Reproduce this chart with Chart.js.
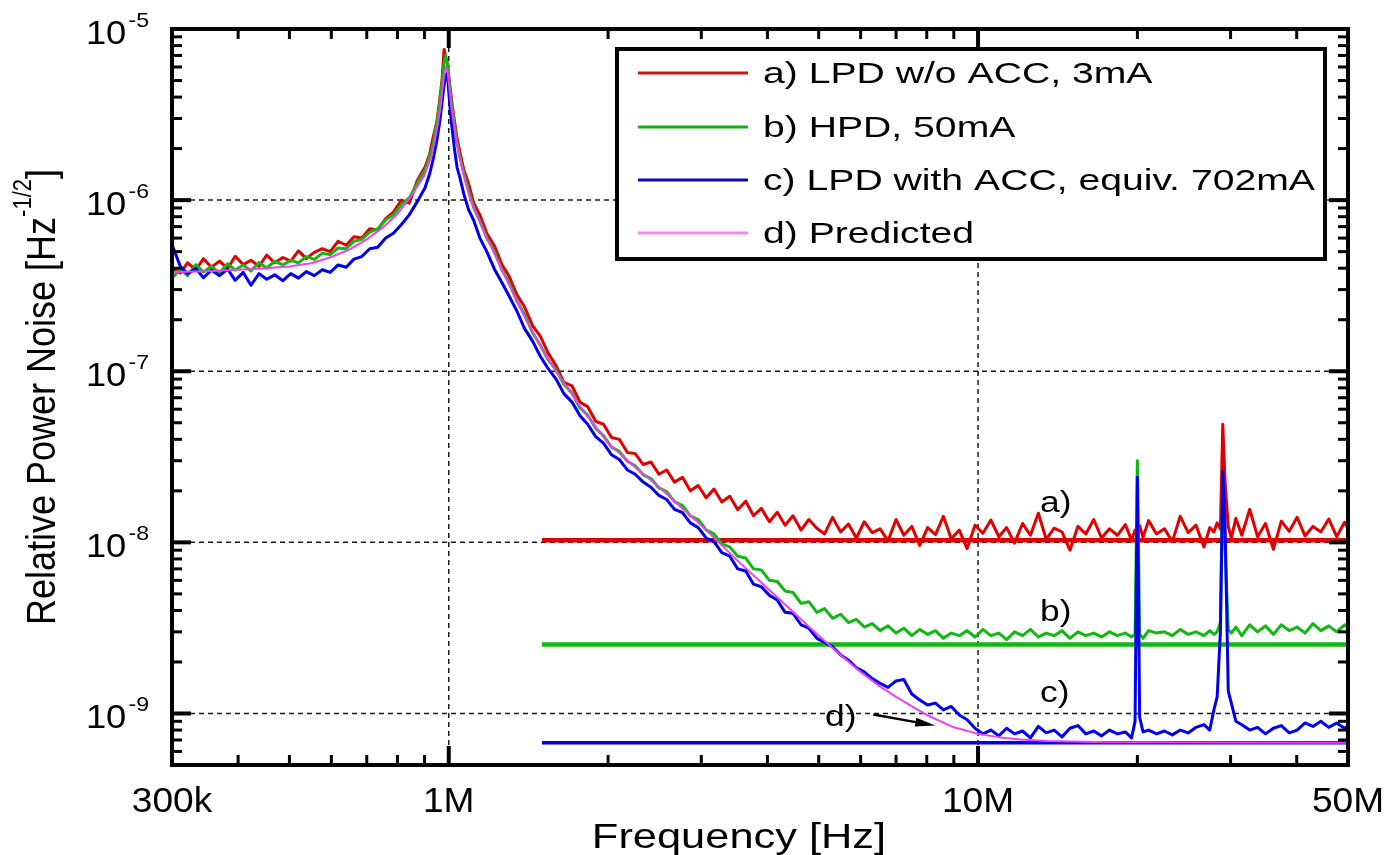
<!DOCTYPE html>
<html>
<head>
<meta charset="utf-8">
<script src="https://cdn.jsdelivr.net/npm/chart.js@4.4.0/dist/chart.umd.min.js"></script>
<style>
  html, body { margin: 0; padding: 0; background: #fff; }
  #wrap { width: 1389px; height: 855px; }
</style>
</head>
<body>
<div id="wrap"><canvas id="chart" width="1389" height="855"></canvas></div>
<script>
// Relative power noise spectra.
// Frequencies are in kHz, noise values in units of 1e-9 Hz^-1/2.

var freqKHz = [
  300, 311, 321, 333, 344, 356, 369, 382, 395, 409,
  423, 438, 453, 469, 486, 503, 520, 538, 557, 577,
  597, 618, 640, 662, 685, 709, 734, 760, 786, 814,
  842, 872, 902, 920, 935, 950, 962, 972, 980, 987,
  994, 1000, 1007, 1015, 1025, 1037, 1050, 1068, 1090, 1115,
  1145, 1180, 1220, 1260, 1300, 1345, 1390, 1440, 1490, 1540,
  1595, 1650, 1710, 1770, 1830, 1895, 1960, 2030, 2100, 2175,
  2250, 2330, 2410, 2495, 2580, 2670, 2765, 2860, 2960, 3065,
  3170, 3280, 3395, 3515, 3640, 3765, 3895, 4035, 4175, 4320,
  4470, 4630, 4790, 4960, 5130, 5310, 5500, 5690, 5890, 6095,
  6310, 6530, 6760, 7000, 7240, 7495, 7760, 8030, 8310, 8600,
  8900, 9215, 9535, 9870, 10215, 10575, 10945, 11325, 11720, 12135,
  12560, 13000, 13455, 13925, 14410, 14915, 15440, 15980, 16540, 17115,
  17715, 18335, 18980, 19500, 19800, 20000, 20200, 20500, 21000, 21735,
  22500, 23285, 24100, 24945, 25815, 26720, 27400, 27900, 28300, 28700,
  29000, 29300, 29700, 30100, 30700, 31500, 32600, 33740, 34920, 36140,
  37410, 38720, 40070, 41475, 42925, 44430, 45985, 47595, 49260, 50000
];

// a) LPD w/o ACC, 3mA
var traceA = [
  400, 375, 430, 392, 455, 405, 440, 398, 470, 420,
  445, 410, 478, 430, 462, 440, 505, 455, 495, 520,
  500, 575, 545, 610, 600, 680, 670, 780, 850, 1000,
  960, 1300, 1560, 1850, 2350, 2900, 3900, 5200, 7600, 6800,
  6400, 5300, 4400, 3600, 2900, 2300, 1900, 1500, 1250, 960,
  820, 640, 540, 420, 360, 280, 238, 185, 160, 128,
  108, 86, 82, 66, 62, 51, 49, 41, 40, 33.5,
  33, 28.5, 29.5, 25, 26.5, 22.5, 24, 20, 21.5, 18.2,
  20.5, 17.2, 18.6, 15.5, 17.4, 14.3, 15.8, 13.2, 15.0, 12.6,
  14.3, 11.8, 13.6, 12.1, 11.2, 14.0, 11.5, 12.8, 10.6, 13.2,
  11.4, 12.0, 10.2, 13.6, 11.0, 12.4, 9.6, 12.2, 11.1, 14.2,
  10.5, 11.8, 9.2, 12.6, 11.3, 13.5, 10.8, 12.2, 9.9, 12.9,
  11.0, 14.8, 10.4, 12.1, 11.5, 9.0, 12.4, 11.2, 13.6, 10.6,
  12.0, 11.0, 12.7, 10.3, 11.8, 11.0, 12.5, 10.7, 13.4, 11.2,
  12.0, 10.1, 14.2, 11.4, 12.6, 9.4, 12.2, 11.5, 13.0, 12.0,
  49, 22, 12.4, 10.6, 13.8, 11.0, 15.6, 10.8, 12.9, 9.1,
  13.3, 11.6, 14.0, 10.9, 12.4, 11.5, 13.7, 10.8, 13.1, 12.0
];

// b) HPD, 50mA
var traceB = [
  350, 395, 362, 420, 380, 410, 375, 425, 390, 418,
  385, 432, 400, 440, 418, 445, 430, 468, 450, 490,
  480, 525, 520, 575, 590, 650, 680, 765, 820, 940,
  1030, 1250, 1500, 1780, 2150, 2850, 3700, 4900, 6300, 7000,
  6300, 5100, 4200, 3400, 2750, 2150, 1780, 1430, 1140, 900,
  755, 600, 500, 392, 330, 258, 215, 168, 142, 117,
  102, 84, 74.5, 61, 55.5, 46.5, 42, 36, 34, 29.8,
  28, 24.8, 23.6, 20.8, 19.8, 17.3, 16.4, 14.3, 13.6, 11.8,
  11.2, 9.8, 9.4, 8.3, 8.1, 7.0, 6.9, 6.0, 5.9, 5.2,
  5.1, 4.4, 4.5, 3.9, 4.1, 3.6, 3.8, 3.4, 3.55, 3.2,
  3.35, 3.05, 3.25, 2.95, 3.15, 2.85, 3.1, 2.9, 3.05, 2.75,
  2.95, 2.85, 3.05, 2.8, 3.1, 2.85, 2.95, 2.7, 3.0, 2.85,
  3.1, 2.8, 2.95, 2.85, 3.05, 2.75, 3.0, 2.85, 2.95, 2.8,
  3.0, 2.85, 2.95, 2.8, 2.9, 30, 2.9, 2.75, 3.05, 2.95,
  3.0, 2.85, 3.1, 2.9, 3.0, 2.85, 3.05, 2.9, 3.0, 3.4,
  22, 9, 3.1, 2.95, 3.2, 2.85, 3.3, 3.0, 3.25, 2.9,
  3.3, 3.05, 3.2, 2.95, 3.35, 3.05, 3.25, 3.0, 3.3, 3.15
];

// c) LPD with ACC, equiv. 702mA
var traceC = [
  550, 410, 372, 398, 352, 390, 362, 395, 340, 378,
  318, 372, 345, 366, 338, 372, 350, 382, 362, 392,
  378, 418, 405, 452, 468, 520, 530, 600, 640, 720,
  820, 980, 1180, 1420, 1750, 2250, 2900, 3800, 4700, 5400,
  5500, 4300, 3300, 2600, 2000, 1550, 1350, 1080, 880, 760,
  600, 500, 395, 330, 275, 225, 178, 150, 122, 104,
  90, 74, 66, 55, 49, 41.5, 38, 32.5, 30.5, 26.5,
  25, 22.5, 21, 18.8, 17.8, 15.6, 14.9, 13, 12.2, 10.6,
  10.1, 8.7, 8.3, 7.0, 6.8, 5.7, 5.5, 4.9, 4.6, 3.9,
  3.85, 3.3, 3.15, 2.75, 2.6, 2.45, 2.2, 2.05, 1.85, 1.75,
  1.6, 1.5, 1.42, 1.55, 1.58, 1.3, 1.2, 1.12, 1.15, 1.05,
  1.1, 0.98, 0.92, 0.82, 0.76, 0.8, 0.74, 0.82, 0.76, 0.79,
  0.72, 0.84, 0.77, 0.8, 0.73, 0.82, 0.85, 0.76, 0.79, 0.74,
  0.8, 0.76, 0.78, 0.72, 0.9, 24, 0.95, 0.78, 0.8, 0.76,
  0.79, 0.75, 0.8, 0.77, 0.83, 0.86, 0.8, 1.05, 1.25, 3.0,
  26, 12, 1.35, 1.15, 0.9, 0.86, 0.8, 0.83, 0.76, 0.82,
  0.85, 0.77, 0.8, 0.88, 0.84, 0.9, 0.83, 0.88, 0.82, 0.85
];

// d) Predicted (smooth model curve)
var predFreqKHz = [
  300, 350, 400, 450, 500, 550, 600, 650, 700, 750,
  800, 850, 900, 930, 950, 965, 975, 982, 988, 994,
  1000, 1010, 1020, 1035, 1050, 1070, 1100, 1150, 1200, 1300,
  1400, 1500, 1600, 1800, 2000, 2250, 2500, 2750, 3000, 3500,
  4000, 4500, 5000, 5500, 6000, 6500, 7000, 7500, 8000, 9000,
  10000, 11000, 12000, 13500, 15000, 17500, 20000, 30000, 50000
];
var predicted = [
  380, 384, 392, 400, 410, 428, 465, 515, 590, 690,
  830, 1060, 1400, 1850, 2600, 3500, 4700, 5600, 6000, 5800,
  4900, 3600, 2900, 2200, 1750, 1350, 1000, 720, 540, 320,
  200, 135, 98, 58, 38, 27.5, 21, 16, 12.6, 7.9,
  5.4, 3.85, 2.85, 2.2, 1.75, 1.45, 1.25, 1.1, 0.98, 0.83,
  0.76, 0.725, 0.705, 0.69, 0.685, 0.68, 0.678, 0.676, 0.675
];

// Shot noise levels drawn as flat lines (same units), and their span.
var shotSpanKHz = [1500, 50000];
var shotA = 10.3;
var shotB = 2.53;
var shotC = 0.675;

var legendLabels = [
  "a) LPD w/o ACC, 3mA",
  "b) HPD, 50mA",
  "c) LPD with ACC, equiv. 702mA",
  "d) Predicted"
];
var xTickLabels = ["300k", "1M", "10M", "50M"];
var xTickValues = [3e5, 1e6, 1e7, 5e7];
var yTickExponents = [-5, -6, -7, -8, -9];

// ----------------------------------------------------------------------------

var FONT = '"Liberation Sans", Arial, Helvetica, sans-serif';
var colors = { a: "#e00000", b: "#12b812", c: "#0000ee", d: "#f040f0" };
var legendColors = ["#c81414", "#14b014", "#0a0ab4", "#f08af0"];

// Turns kHz / nano-unit arrays into {x, y} points in Hz and Hz^-1/2.
function toPoints(freqs, values) {
  return freqs.map(function(f, i) {
    return { x: f * 1e3, y: values[i] * 1e-9 };
  });
}

function flat(level) {
  return toPoints(shotSpanKHz, [level, level]);
}

// Draws a run of text pieces (for superscripts) with a horizontal stretch.
function drawParts(ctx, parts, x, y, align, sx, rotate) {
  ctx.save();
  ctx.translate(x, y);
  ctx.scale(sx, 1);
  if (rotate) ctx.rotate(-Math.PI / 2);
  var total = 0;
  parts.forEach(function(p) {
    ctx.font = p.size + "px " + FONT;
    p.w = ctx.measureText(p.text).width + (p.gap || 0);
    total += p.w;
  });
  var cx = align === "center" ? -total / 2 : (align === "right" ? -total : 0);
  ctx.textAlign = "left";
  ctx.textBaseline = "alphabetic";
  ctx.fillStyle = "#000";
  parts.forEach(function(p) {
    ctx.font = p.size + "px " + FONT;
    ctx.fillText(p.text, cx + (p.gap || 0), -(p.rise || 0));
    cx += p.w;
  });
  ctx.restore();
}

function minorValues(lo, hi) {
  var out = [];
  for (var e = -10; e <= 8; e++) {
    for (var m = 2; m <= 9; m++) {
      var v = m * Math.pow(10, e);
      if (v > lo * 1.0001 && v < hi * 0.9999) out.push(v);
    }
  }
  return out;
}

// Dashed grid lines at the decades, under the traces.
var decadeGrid = {
  id: "decadeGrid",
  beforeDatasetsDraw: function(chart) {
    var ctx = chart.ctx, a = chart.chartArea;
    var xs = chart.scales.x, ys = chart.scales.y;
    ctx.save();
    ctx.strokeStyle = "#1a1a1a";
    ctx.lineWidth = 1.5;
    ctx.setLineDash([5, 4]);
    [1e6, 1e7].forEach(function(f) {
      var px = xs.getPixelForValue(f);
      ctx.beginPath(); ctx.moveTo(px, a.top); ctx.lineTo(px, a.bottom); ctx.stroke();
    });
    [1e-6, 1e-7, 1e-8, 1e-9].forEach(function(v) {
      var py = ys.getPixelForValue(v);
      ctx.beginPath(); ctx.moveTo(a.left, py); ctx.lineTo(a.right, py); ctx.stroke();
    });
    ctx.restore();
  }
};

// Frame, inward ticks on all four sides, tick labels, titles, annotations.
var frameAndLabels = {
  id: "frameAndLabels",
  afterDatasetsDraw: function(chart) {
    var ctx = chart.ctx, a = chart.chartArea;
    var xs = chart.scales.x, ys = chart.scales.y;
    ctx.save();
    ctx.strokeStyle = "#000";
    ctx.lineCap = "butt";

    // ticks
    function xTick(f, len, w) {
      var px = xs.getPixelForValue(f);
      ctx.lineWidth = w;
      ctx.beginPath(); ctx.moveTo(px, a.bottom); ctx.lineTo(px, a.bottom - len); ctx.stroke();
      ctx.beginPath(); ctx.moveTo(px, a.top); ctx.lineTo(px, a.top + len); ctx.stroke();
    }
    function yTick(v, len, w) {
      var py = ys.getPixelForValue(v);
      ctx.lineWidth = w;
      ctx.beginPath(); ctx.moveTo(a.left, py); ctx.lineTo(a.left + len, py); ctx.stroke();
      ctx.beginPath(); ctx.moveTo(a.right, py); ctx.lineTo(a.right - len, py); ctx.stroke();
    }
    minorValues(xs.min, xs.max).forEach(function(f) { xTick(f, 10, 3); });
    [1e6, 1e7].forEach(function(f) { xTick(f, 19, 4); });
    minorValues(ys.min, ys.max).forEach(function(v) { yTick(v, 10, 3); });
    [1e-6, 1e-7, 1e-8, 1e-9].forEach(function(v) { yTick(v, 19, 4); });

    // frame
    ctx.lineWidth = 4;
    ctx.strokeRect(a.left, a.top, a.right - a.left, a.bottom - a.top);
    ctx.restore();

    // y tick labels 10^n
    yTickExponents.forEach(function(e) {
      var py = ys.getPixelForValue(Math.pow(10, e));
      drawParts(ctx, [
        { text: "10", size: 33 },
        { text: String(e), size: 21, rise: 17, gap: 2 }
      ], a.left - 23, py + 15, "right", 1.1, false);
    });

    // x tick labels
    xTickValues.forEach(function(f, i) {
      drawParts(ctx, [{ text: xTickLabels[i], size: 35 }],
        xs.getPixelForValue(f), a.bottom + 47, "center", 1.06, false);
    });

    // axis titles
    drawParts(ctx, [{ text: "Frequency [Hz]", size: 35 }], 739, 848, "center", 1.24, false);
    drawParts(ctx, [
      { text: "Relative Power Noise [Hz", size: 36 },
      { text: "-1/2", size: 22, rise: 21 },
      { text: "]", size: 36 }
    ], 55, (a.top + a.bottom) / 2, "center", 1.15, true);

    // curve annotations
    function note(text, f, v) {
      drawParts(ctx, [{ text: text, size: 29 }],
        xs.getPixelForValue(f), ys.getPixelForValue(v), "left", 1.22, false);
    }
    note("a)", 13.1e6, 1.5e-8);
    note("b)", 13.1e6, 3.45e-9);
    note("c)", 13.1e6, 1.17e-9);
    note("d)", 5.14e6, 8.4e-10);

    // arrow from "d)" to the predicted curve
    var x0 = xs.getPixelForValue(6.34e6), y0 = ys.getPixelForValue(9.86e-10);
    var x1 = xs.getPixelForValue(8.3e6), y1 = ys.getPixelForValue(8.5e-10);
    var ang = Math.atan2(y1 - y0, x1 - x0);
    ctx.save();
    ctx.strokeStyle = "#000";
    ctx.fillStyle = "#000";
    ctx.lineWidth = 2.5;
    ctx.beginPath(); ctx.moveTo(x0, y0);
    ctx.lineTo(x1 - 14 * Math.cos(ang), y1 - 14 * Math.sin(ang)); ctx.stroke();
    ctx.translate(x1, y1);
    ctx.rotate(ang);
    ctx.beginPath(); ctx.moveTo(0, 0); ctx.lineTo(-20, -4.5); ctx.lineTo(-20, 4.5); ctx.closePath(); ctx.fill();
    ctx.restore();
  },

  // Boxed legend in the upper right, drawn over the grid.
  afterDraw: function(chart) {
    var ctx = chart.ctx;
    var box = { left: 617, top: 49, right: 1325, bottom: 259 };
    var rows = [73, 127, 180, 233];
    ctx.save();
    ctx.fillStyle = "#fff";
    ctx.fillRect(box.left, box.top, box.right - box.left, box.bottom - box.top);
    ctx.strokeStyle = "#000";
    ctx.lineWidth = 4;
    ctx.strokeRect(box.left, box.top, box.right - box.left, box.bottom - box.top);
    legendLabels.forEach(function(label, i) {
      ctx.strokeStyle = legendColors[i];
      ctx.lineWidth = 3;
      ctx.beginPath(); ctx.moveTo(638, rows[i]); ctx.lineTo(748, rows[i]); ctx.stroke();
    });
    ctx.restore();
    legendLabels.forEach(function(label, i) {
      drawParts(ctx, [{ text: label, size: 29 }], 763, rows[i] + 10, "left", 1.35, false);
    });
  }
};

function series(label, data, color, width, order) {
  return {
    label: label,
    data: data,
    borderColor: color,
    backgroundColor: color,
    borderWidth: width,
    borderJoinStyle: "round",
    pointRadius: 0,
    tension: 0,
    fill: false,
    order: order
  };
}

var chart = new Chart(document.getElementById("chart"), {
  type: "line",
  data: {
    datasets: [
      series(legendLabels[3], toPoints(predFreqKHz, predicted), colors.d, 2, 0),
      series(legendLabels[2], toPoints(freqKHz, traceC), colors.c, 3, 1),
      series(legendLabels[1], toPoints(freqKHz, traceB), colors.b, 3, 2),
      series(legendLabels[0], toPoints(freqKHz, traceA), colors.a, 3, 3),
      series("shot c", flat(shotC), colors.c, 3.5, 4),
      series("shot b", flat(shotB), colors.b, 4.5, 5),
      series("shot a", flat(shotA), colors.a, 4.5, 6)
    ]
  },
  options: {
    responsive: false,
    devicePixelRatio: 1,
    animation: false,
    layout: { padding: { left: 172, top: 29, right: 41, bottom: 90 } },
    plugins: { legend: { display: false }, tooltip: { enabled: false } },
    scales: {
      x: { type: "logarithmic", min: 3e5, max: 5e7, display: false },
      y: { type: "logarithmic", min: 5e-10, max: 1e-5, display: false }
    }
  },
  plugins: [decadeGrid, frameAndLabels]
});
</script>
</body>
</html>
